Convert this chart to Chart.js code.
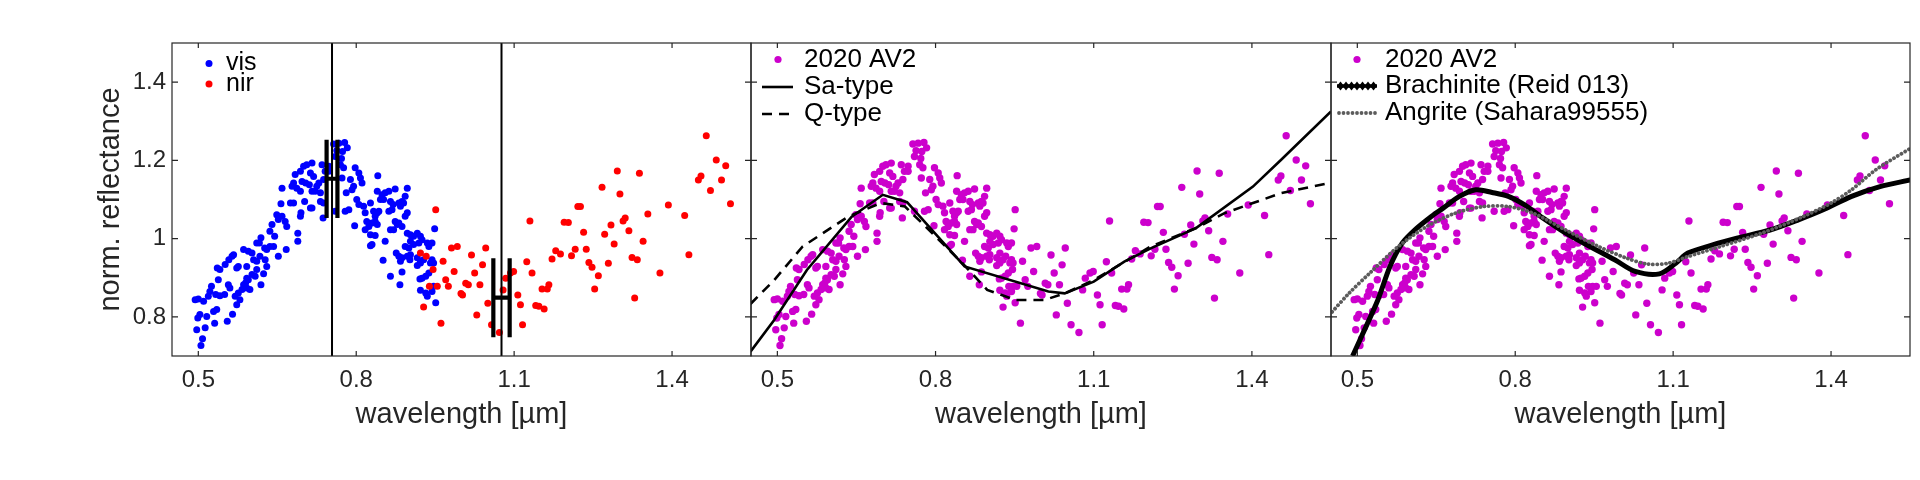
<!DOCTYPE html>
<html>
<head>
<meta charset="utf-8">
<script src="https://cdn.jsdelivr.net/npm/chart.js@4.4.1/dist/chart.umd.min.js"></script>
<style>
html,body{margin:0;padding:0;background:#fff;}
#wrap{position:relative;width:1920px;height:480px;overflow:hidden;}
#wrap canvas{position:absolute;left:0;top:0;}
</style>
</head>
<body>
<div id="wrap">
<canvas id="c1" width="1920" height="480"></canvas>
<canvas id="c2" width="1920" height="480"></canvas>
<canvas id="c3" width="1920" height="480"></canvas>
</div>
<script>
// ---------- DATA ----------
const xRange = [0.45, 1.55];
const yRange = [0.7, 1.5];
const xTicks = [0.5, 0.8, 1.1, 1.4];
const yTicks = [0.8, 1, 1.2, 1.4];

// visible spectrum [wavelength µm, normalised reflectance]
const visPoints = [
[0.505,0.727],[0.508,0.744],[0.497,0.767],[0.513,0.772],[0.531,0.784],[0.555,0.789],[0.565,0.807],[0.499,0.797],[0.503,0.806],[0.516,0.801],
[0.529,0.814],[0.535,0.819],[0.494,0.844],[0.500,0.846],[0.510,0.840],[0.519,0.853],[0.522,0.865],[0.525,0.878],[0.533,0.857],[0.541,0.854],
[0.550,0.857],[0.557,0.882],[0.560,0.874],[0.570,0.853],[0.576,0.861],[0.573,0.831],[0.583,0.870],[0.586,0.882],[0.590,0.887],[0.595,0.895],
[0.592,0.874],[0.598,0.870],[0.579,0.844],[0.538,0.895],[0.541,0.921],[0.536,0.925],[0.551,0.934],[0.558,0.946],[0.564,0.955],[0.567,0.959],
[0.573,0.925],[0.576,0.929],[0.592,0.929],[0.592,0.899],[0.602,0.908],[0.608,0.904],[0.611,0.921],[0.619,0.882],[0.624,0.910],[0.605,0.946],
[0.611,0.942],[0.617,0.955],[0.627,0.946],[0.630,0.929],[0.586,0.972],[0.595,0.968],[0.602,0.963],[0.616,0.989],[0.619,1.002],[0.611,0.989],
[0.626,0.976],[0.630,0.972],[0.636,0.980],[0.643,0.980],[0.652,0.955],[0.667,0.972],[0.636,1.019],[0.640,1.036],[0.645,1.006],[0.649,1.061],
[0.659,1.057],[0.665,1.044],[0.668,1.031],[0.652,1.049],[0.689,0.993],[0.689,1.014],[0.694,1.057],[0.695,1.066],[0.657,1.089],[0.675,1.091],
[0.681,1.091],[0.678,1.134],[0.681,1.142],[0.687,1.129],[0.694,1.121],[0.659,1.129],[0.702,1.095],[0.684,1.164],[0.694,1.172],[0.700,1.185],
[0.706,1.189],[0.713,1.168],[0.716,1.121],[0.713,1.078],[0.697,1.146],[0.704,1.142],[0.711,1.138],
[0.716,1.193],[0.719,1.159],[0.729,1.142],[0.722,1.121],[0.716,1.078],[0.735,1.189],[0.741,1.172],[0.738,1.151],[0.725,1.134],[0.732,1.117],
[0.738,1.091],[0.732,1.095],[0.737,1.053],[0.748,1.185],[0.748,1.172],[0.760,1.070],[0.770,1.189],[0.776,1.181],[0.773,1.155],[0.781,1.117],
[0.779,1.070],[0.786,1.074],[0.789,1.151],[0.792,1.125],[0.795,1.134],[0.798,1.181],[0.805,1.168],[0.808,1.155],[0.811,1.142],[0.801,1.100],
[0.805,1.087],[0.814,1.083],[0.817,1.066],[0.797,1.033],[0.827,1.091],[0.833,1.070],[0.836,1.057],[0.840,1.066],[0.843,1.070],[0.820,1.044],
[0.824,1.031],[0.830,1.040],[0.836,1.044],[0.840,1.036],[0.817,1.023],[0.827,1.010],[0.841,1.161],[0.840,1.121],[0.849,1.112],[0.855,1.117],
[0.862,1.121],[0.846,1.100],[0.852,1.100],[0.865,1.095],[0.870,1.087],[0.874,1.127],[0.881,1.091],[0.884,1.083],[0.887,1.095],[0.862,1.070],
[0.868,1.074],[0.897,1.129],[0.893,1.108],[0.890,1.091],[0.874,1.044],[0.881,1.040],[0.887,1.031],[0.878,1.036],[0.865,1.023],[0.871,1.023],
[0.836,1.008],[0.827,0.982],[0.830,0.985],[0.855,0.993],[0.897,1.066],[0.893,1.057],[0.897,1.014],[0.903,1.010],[0.909,1.006],[0.916,1.014],
[0.922,1.006],[0.925,0.997],[0.919,0.989],[0.903,0.993],[0.909,0.985],[0.893,0.980],[0.900,0.976],[0.876,0.963],[0.881,0.955],[0.887,0.951],
[0.897,0.955],[0.903,0.959],[0.884,0.942],[0.902,0.946],[0.851,0.945],[0.916,0.951],[0.922,0.942],[0.928,0.946],[0.916,0.931],[0.922,0.938],
[0.935,0.989],[0.938,0.980],[0.944,0.989],[0.949,1.025],[0.865,0.904],[0.887,0.915],[0.883,0.882],[0.938,0.912],[0.932,0.904],[0.925,0.899],
[0.921,0.897],[0.944,0.946],[0.947,0.938],[0.941,0.938],[0.922,0.868],[0.932,0.861],[0.935,0.853],[0.944,0.865],[0.947,0.878],[0.951,0.836],
[0.757,1.242],[0.767,1.244],[0.778,1.246],[0.774,1.223],[0.763,1.225],[0.783,1.232],[0.760,1.210],[0.772,1.205]
];

// near-infrared spectrum
const nirPoints = [
[0.951,1.074],[0.922,0.963],[0.933,0.955],[0.946,0.921],[0.965,0.942],[0.970,0.895],[0.939,0.878],[0.954,0.878],[0.928,0.825],[0.961,0.784],
[0.975,0.878],[0.986,0.916],[0.981,0.976],[0.992,0.980],[0.999,0.860],[1.002,0.856],[1.008,0.886],[1.013,0.882],[1.019,0.958],[1.025,0.912],
[1.029,0.805],[1.035,0.882],[1.040,0.933],[1.046,0.976],[1.050,0.835],[1.057,0.780],[1.072,0.760],[1.079,0.869],[1.084,0.899],[1.093,0.912],
[1.099,0.916],[1.107,0.856],[1.112,0.831],[1.116,0.780],[1.124,0.941],[1.130,1.045],[1.134,0.912],[1.141,0.829],[1.147,0.827],[1.157,0.820],
[1.153,0.871],[1.163,0.871],[1.166,0.882],[1.172,0.948],[1.179,0.969],[1.188,0.961],[1.195,1.042],[1.203,1.041],[1.209,0.956],[1.216,0.973],
[1.221,1.082],[1.226,1.082],[1.232,1.016],[1.237,0.973],[1.242,0.939],[1.248,0.927],[1.253,0.871],[1.260,0.905],[1.267,1.131],[1.272,1.011],
[1.279,0.937],[1.284,1.035],[1.290,0.986],[1.296,1.173],[1.301,1.114],[1.307,1.045],[1.311,1.053],[1.318,1.020],[1.324,0.952],[1.329,0.848],
[1.334,0.946],[1.338,1.167],[1.345,0.993],[1.354,1.063],[1.377,0.912],[1.393,1.086],[1.424,1.059],[1.432,0.959],[1.450,1.150],[1.455,1.160],
[1.465,1.263],[1.473,1.123],[1.484,1.201],[1.494,1.150],[1.502,1.186],[1.511,1.089]
];

// band centres (x ± err) at reflectance (y ± err)
const bandCenter    = [0.754, 1.076];
const bandCenterErr = [0.0103, 0.0155];
const bandRefl      = [1.153, 0.849];
const bandReflErr   = [0.100, 0.101];

// taxonomic class spectra
const saTypeCurve = [
[0.449,0.711],[0.494,0.792],[0.556,0.920],[0.641,1.056],[0.700,1.112],[0.746,1.093],[0.855,0.929],[1.014,0.865],[1.045,0.860],
[1.100,0.890],[1.158,0.941],[1.208,0.975],[1.294,1.027],[1.402,1.133],[1.455,1.201],[1.550,1.325]
];
const qTypeCurve = [
[0.449,0.833],[0.494,0.894],[0.548,0.980],[0.634,1.056],[0.696,1.091],[0.742,1.082],[0.781,1.031],[0.851,0.937],[0.898,0.869],
[0.952,0.843],[1.006,0.843],[1.045,0.860],[1.100,0.894],[1.154,0.937],[1.208,0.980],[1.294,1.027],[1.348,1.065],[1.402,1.091],
[1.455,1.116],[1.550,1.143]
];

// meteorite spectra
const brachiniteCurve = [
[0.491,0.700],[0.508,0.750],[0.539,0.843],[0.562,0.929],[0.585,0.988],[0.609,1.022],[0.640,1.056],[0.663,1.078],[0.694,1.108],
[0.725,1.125],[0.756,1.118],[0.787,1.108],[0.818,1.086],[0.849,1.056],[0.896,1.014],[0.942,0.980],[0.989,0.946],[1.028,0.916],
[1.074,0.910],[1.105,0.937],[1.128,0.963],[1.175,0.984],[1.221,1.001],[1.284,1.022],[1.338,1.048],[1.384,1.073],[1.439,1.108],
[1.493,1.133],[1.551,1.150]
];
const angriteCurve = [
[0.447,0.805],[0.484,0.860],[0.523,0.911],[0.578,0.980],[0.632,1.031],[0.686,1.065],[0.740,1.082],[0.787,1.082],[0.834,1.065],
[0.896,1.022],[0.958,0.980],[1.012,0.950],[1.051,0.935],[1.090,0.937],[1.128,0.954],[1.190,0.980],[1.268,1.014],[1.346,1.056],
[1.400,1.091],[1.439,1.125],[1.485,1.176],[1.551,1.231]
];

// ---------- STYLE ----------
const FONT = "'Liberation Sans', Arial, Helvetica, sans-serif";
const AXIS_COLOR = '#262626';
const BLUE = '#0000ff', RED = '#ff0000', MAGENTA = '#cc00cc', GREY = '#5c5c5c';

const toXY = arr => arr.map(p => ({x: p[0], y: p[1]}));
const fmt = v => String(Math.round(v * 10) / 10);

// ---------- plugins ----------
const boxPlugin = {
  id: 'boxTicks',
  afterDraw(chart) {
    const {ctx, chartArea: a, scales} = chart;
    const x = scales.x, y = scales.y;
    ctx.save();
    ctx.strokeStyle = AXIS_COLOR;
    ctx.lineWidth = 1.2;
    ctx.strokeRect(a.left, a.top, a.right - a.left, a.bottom - a.top);
    ctx.beginPath();
    xTicks.forEach(v => {
      const px = x.getPixelForValue(v);
      ctx.moveTo(px, a.bottom); ctx.lineTo(px, a.bottom - 5);
      ctx.moveTo(px, a.top); ctx.lineTo(px, a.top + 5);
    });
    yTicks.forEach(v => {
      const py = y.getPixelForValue(v);
      ctx.moveTo(a.left, py); ctx.lineTo(a.left + 6, py);
      ctx.moveTo(a.right, py); ctx.lineTo(a.right - 6, py);
    });
    ctx.stroke();
    ctx.restore();
  }
};

const legendPlugin = {
  id: 'insideLegend',
  afterDraw(chart, args, opts) {
    if (!opts || !opts.items) return;
    const {ctx, chartArea: a} = chart;
    ctx.save();
    ctx.font = opts.fontSize + 'px ' + FONT;
    ctx.textBaseline = 'middle';
    ctx.textAlign = 'left';
    opts.items.forEach((it, i) => {
      const yy = a.top + opts.rowY[i];
      const x0 = a.left + opts.lineX[0], x1 = a.left + opts.lineX[1];
      if (it.type === 'dot') {
        ctx.fillStyle = it.color;
        ctx.beginPath();
        ctx.arc(a.left + opts.symX, yy, it.r || 3.5, 0, Math.PI * 2);
        ctx.fill();
      } else if (it.type === 'diamonds') {
        ctx.strokeStyle = it.color; ctx.fillStyle = it.color;
        ctx.lineWidth = 3.5;
        ctx.beginPath(); ctx.moveTo(x0, yy); ctx.lineTo(x1, yy); ctx.stroke();
        for (let xx = x0 + 3.5; xx <= x1 - 3; xx += 5.5) {
          ctx.beginPath();
          ctx.moveTo(xx, yy - 4.5); ctx.lineTo(xx + 3.5, yy); ctx.lineTo(xx, yy + 4.5); ctx.lineTo(xx - 3.5, yy);
          ctx.closePath(); ctx.fill();
        }
      } else if (it.type === 'dots') {
        ctx.fillStyle = it.color;
        for (let xx = x0 + 2; xx <= x1 - 1; xx += 4.5) {
          ctx.beginPath(); ctx.arc(xx, yy, 1.9, 0, Math.PI * 2); ctx.fill();
        }
      } else {
        ctx.strokeStyle = it.color;
        ctx.lineWidth = it.width;
        ctx.setLineDash(it.dash || []);
        ctx.beginPath();
        ctx.moveTo(x0, yy);
        ctx.lineTo(x1, yy);
        ctx.stroke();
        ctx.setLineDash([]);
      }
      ctx.fillStyle = '#000';
      ctx.fillText(it.label, a.left + opts.textX, yy);
    });
    ctx.restore();
  }
};

function scales(showY) {
  const tickFont = {family: FONT, size: 24};
  const titleFont = {family: FONT, size: 29};
  return {
    x: {
      type: 'linear', min: xRange[0], max: xRange[1],
      afterBuildTicks: s => { s.ticks = xTicks.map(v => ({value: v})); },
      ticks: {font: tickFont, color: AXIS_COLOR, padding: 10, maxRotation: 0, autoSkip: false, callback: v => fmt(v)},
      grid: {display: false, drawTicks: false},
      border: {display: false},
      title: {display: true, text: 'wavelength [µm]', font: titleFont, color: AXIS_COLOR, padding: {top: 0, bottom: 48}},
      afterFit: s => { s.height = 124; }
    },
    y: {
      type: 'linear', min: yRange[0], max: yRange[1],
      afterBuildTicks: s => { s.ticks = yTicks.map(v => ({value: v})); },
      ticks: {display: showY, font: tickFont, color: AXIS_COLOR, padding: 6, callback: v => fmt(v)},
      grid: {display: false, drawTicks: false},
      border: {display: false},
      title: {display: showY, text: 'norm. reflectance', font: titleFont, color: AXIS_COLOR, padding: {top: 94, bottom: 0}},
      afterFit: s => { s.width = showY ? 172 : 0; }
    }
  };
}

function makeChart(id, padL, padR, showY, datasets, legend) {
  return new Chart(document.getElementById(id), {
    type: 'scatter',
    data: {datasets},
    options: {
      responsive: false, animation: false, devicePixelRatio: 1,
      layout: {padding: {left: padL, right: padR, top: 43, bottom: 0}},
      scales: scales(showY),
      plugins: {legend: {display: false}, tooltip: {enabled: false}, insideLegend: legend}
    },
    plugins: [boxPlugin, legendPlugin]
  });
}

function pointsDataset(pts, color, r, order) {
  return {data: toXY(pts), backgroundColor: color, borderColor: color, pointRadius: r, pointBorderWidth: 0,
          pointHoverRadius: r, showLine: false, order};
}
function lineDataset(pts, color, width, dash, order, tension, cap) {
  return {data: toXY(pts), borderColor: color, backgroundColor: color, borderWidth: width, borderDash: dash || [],
          pointRadius: 0, showLine: true, tension: tension || 0, clip: 0, order, borderCapStyle: cap || 'butt'};
}

// ---------- panel 1 ----------
const bandLines = [];
const errBars = [];
bandCenter.forEach((c, i) => {
  bandLines.push({x: c, y: yRange[0]}, {x: c, y: yRange[1]}, {x: c, y: null});
  const e = bandCenterErr[i], r = bandRefl[i], er = bandReflErr[i];
  errBars.push({x: c - e, y: r - er}, {x: c - e, y: r + er}, {x: c - e, y: null},
               {x: c + e, y: r - er}, {x: c + e, y: r + er}, {x: c + e, y: null},
               {x: c - e, y: r}, {x: c + e, y: r}, {x: c + e, y: null});
});

makeChart('c1', 0, 1920 - 751, true, [
  pointsDataset(visPoints, BLUE, 3.5, 4),
  pointsDataset(nirPoints, RED, 3.5, 3),
  {data: bandLines, borderColor: '#000', borderWidth: 2, pointRadius: 0, showLine: true, spanGaps: false, clip: 0, order: 2},
  {data: errBars, borderColor: '#000', borderWidth: 4.2, pointRadius: 0, showLine: true, spanGaps: false, clip: 0, order: 1}
], {
  fontSize: 25, symX: 37, textX: 54, rowY: [20.5, 41], lineX: [0, 0],
  items: [{type: 'dot', color: BLUE, label: 'vis', r: 3.5}, {type: 'dot', color: RED, label: 'nir', r: 3.5}]
});

// ---------- panel 2 ----------
const allPoints = visPoints.concat(nirPoints);
makeChart('c2', 751, 1920 - 1331, false, [
  pointsDataset(allPoints, MAGENTA, 3.7, 3),
  lineDataset(saTypeCurve, '#000', 2.6, [], 2),
  lineDataset(qTypeCurve, '#000', 2.6, [10, 7], 1)
], {
  fontSize: 26, symX: 27, textX: 53, rowY: [16.5, 44, 71], lineX: [11, 42],
  items: [
    {type: 'dot', color: MAGENTA, label: '2020 AV2', r: 3.6},
    {type: 'line', color: '#000', width: 2.6, label: 'Sa-type'},
    {type: 'line', color: '#000', width: 2.6, dash: [10, 7], label: 'Q-type'}
  ]
});

// ---------- panel 3 ----------
makeChart('c3', 1331, 1920 - 1910, false, [
  pointsDataset(allPoints, MAGENTA, 3.7, 3),
  lineDataset(brachiniteCurve, '#000', 5, [], 2, 0.3),
  lineDataset(angriteCurve, GREY, 3.8, [0.1, 4.2], 1, 0.3, 'round')
], {
  fontSize: 26, symX: 26, textX: 54, rowY: [16.5, 43, 70], lineX: [6, 46],
  items: [
    {type: 'dot', color: MAGENTA, label: '2020 AV2', r: 3.6},
    {type: 'diamonds', color: '#000', label: 'Brachinite (Reid 013)'},
    {type: 'dots', color: GREY, label: 'Angrite (Sahara99555)'}
  ]
});
</script>
</body>
</html>
